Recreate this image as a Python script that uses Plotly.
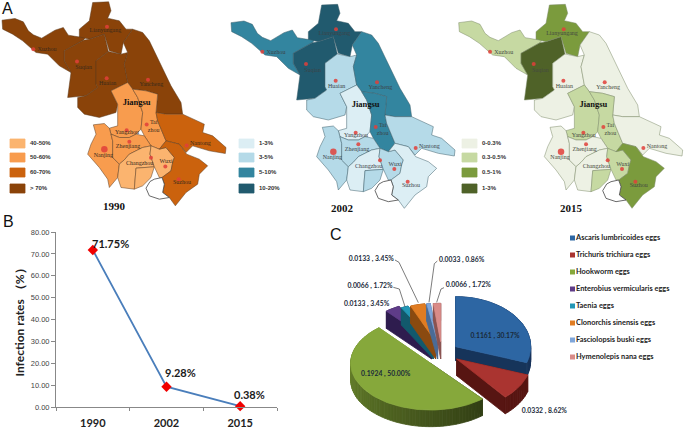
import numpy as np
import plotly.graph_objects as go

# ---------- map data (outlines, in map units) ----------
REGIONS = {
 "Xuzhou": [(18,68),(57,63),(82,73),(97,100),(112,112),(137,122),(177,98),(202,90),(217,113),(247,118),(272,116),(262,128),(205,160),(205,190),(225,225),(190,205),(155,170),(120,165),(80,130),(50,110),(20,95)],
 "Lianyungang": [(250,95),(280,70),(290,15),(338,13),(345,40),(335,62),(370,70),(390,95),(410,95),(382,135),(375,170),(340,160),(325,110),(280,125),(250,118)],
 "Suqian": [(205,160),(262,128),(280,125),(325,110),(337,162),(300,190),(300,260),(305,270),(270,295),(215,300),(225,225),(205,190)],
 "Huaian": [(300,190),(337,162),(375,170),(395,165),(385,200),(395,255),(345,280),(365,320),(360,345),(310,360),(265,350),(245,330),(245,300),(270,295),(305,270),(300,260)],
 "Yancheng": [(410,95),(440,105),(460,130),(480,170),(500,210),(525,265),(555,315),(560,350),(510,350),(480,345),(485,290),(450,280),(410,275),(395,255),(385,200),(395,165),(382,135)],
 "Yangzhou": [(345,280),(395,255),(410,275),(425,300),(440,345),(435,395),(420,410),(400,420),(370,420),(345,410),(340,392),(365,385),(365,320)],
 "Taizhou": [(410,275),(450,280),(485,290),(480,345),(485,370),(510,430),(490,455),(465,445),(445,415),(435,395),(440,345),(425,300)],
 "Nantong": [(480,345),(510,350),(560,350),(625,380),(620,405),(650,415),(690,450),(688,468),(640,460),(590,445),(570,465),(550,440),(510,430),(485,370)],
 "Nanjing": [(292,382),(325,378),(340,392),(345,410),(350,430),(350,480),(370,500),(365,540),(340,570),(335,545),(310,510),(275,470),(285,440),(300,410)],
 "Zhenjiang": [(345,410),(370,420),(400,420),(420,410),(445,415),(465,445),(440,450),(400,470),(385,487),(370,500),(350,480),(350,430)],
 "Changzhou A": [(385,487),(400,470),(440,450),(465,445),(462,470),(475,508),(420,512),(415,575),(375,570),(365,540),(370,500)],
 "Changzhou B": [(420,512),(475,508),(465,540),(440,565),(415,575)],
 "Wuxi": [(465,445),(490,455),(510,450),(535,480),(530,495),(525,520),(498,540),(490,540),(475,508),(462,470)],
 "Suzhou": [(510,430),(550,440),(572,470),(610,485),(635,505),(610,530),(605,560),(570,585),(538,625),(520,600),(500,585),(505,560),(498,540),(525,520),(530,495),(535,480),(510,450),(490,455)],
}
LAKE = [(450,572),(460,595),(490,605),(520,600),(500,585),(505,560),(498,540),(475,545),(462,552)]

CITY_NAMES = ["Xuzhou","Lianyungang","Suqian","Huaian","Yancheng","Yangzhou","Tai<br>zhou","Zhenjiang","Nanjing","Changzhou","Wuxi","Nantong","Suzhou"]
CITY_MARK_U = [112,333,243,332,456,392,452,400,325,465,508,572,548]
CITY_MARK_V = [155,88,192,242,247,398,381,433,455,481,507,444,545]
CITY_TEXT_U = [153,328,263,335,466,393,473,396,322,431,510,613,558]
CITY_TEXT_V = [156,100,210,258,262,406,388,448,473,498,492,438,556]

YEARS = ["1990","2002","2015"]
LEGEND_LABELS = [["40-50%","50-60%","60-70%","> 70%"],
                 ["1-3%","3-5%","5-10%","10-20%"],
                 ["0-0.3%","0.3-0.5%","0.5-1%","1-3%"]]
LEGEND_COLORS = [["#FBB46F","#F89C4E","#CB620D","#8A4309"],
                 ["#DCEEF4","#B5DAE8","#33859F","#215A6E"],
                 ["#EDF1E4","#C6D9A2","#7B9B3D","#4F6228"]]
CLASS_1990 = {"Xuzhou":3,"Lianyungang":3,"Suqian":3,"Huaian":3,"Yancheng":3,"Yangzhou":1,"Taizhou":1,"Nantong":2,"Nanjing":1,"Zhenjiang":1,"Changzhou A":0,"Changzhou B":0,"Wuxi":0,"Suzhou":2}
CLASS_2002 = {"Xuzhou":2,"Lianyungang":3,"Suqian":3,"Huaian":1,"Yancheng":2,"Yangzhou":0,"Taizhou":2,"Nantong":1,"Nanjing":1,"Zhenjiang":1,"Changzhou A":0,"Changzhou B":1,"Wuxi":1,"Suzhou":0}
CLASS_2015 = {"Xuzhou":1,"Lianyungang":2,"Suqian":3,"Huaian":0,"Yancheng":0,"Yangzhou":1,"Taizhou":1,"Nantong":0,"Nanjing":0,"Zhenjiang":0,"Changzhou A":0,"Changzhou B":1,"Wuxi":1,"Suzhou":2}
CLASSES = [CLASS_1990, CLASS_2002, CLASS_2015]

# ---------- line chart data ----------
LINE_YEARS = ["1990","2002","2015"]
LINE_RATES = [71.75,9.28,0.38]
LINE_TEXT = ["71.75%","9.28%","0.38%"]

# ---------- pie data ----------
EGG_NAMES = ["Ascaris lumbricoides eggs","Trichuris trichiura eggs","Hookworm eggs","Enterobius vermicularis eggs",
             "Taenia eggs","Clonorchis sinensis eggs","Fasciolopsis buski eggs","Hymenolepis nana eggs"]
EGG_RATE = [0.1161,0.0332,0.1924,0.0133,0.0066,0.0133,0.0033,0.0066]
EGG_PCT = [30.17,8.62,50.00,3.45,1.72,3.45,0.86,1.72]

# ---------- placement and style ----------
PANEL_OFFSET = [(-4,-2.5),(225,0),(452.7,0)]
PANEL_LINE = ["#5a3a1e","#3d5e6b","#7d8a68"]
TEXT_COL = ["#3a2a1c","#3c4448","#454a40"]
LEG_X = [10,239,462]
LEG_Y = [(139,148),(153,162),(168,177),(184,193)]
JIANGSU_UV = (422,316)
YEAR_XY = [(114,207),(342,209),(571,209)]
LINE_LABEL_SHIFT = [(18,7),(14,14),(9,12)]

SLICE_TOP = ["#2D66A3","#AA3430","#86A83B","#5F3C88","#2397B6","#E07C22","#7FA6DA","#D98B88"]
SLICE_SIDE = ["#16345A","#571512","#55701F","#2E1C4E","#12596C","#8A4A10","#4A6B96","#8A5350"]
SLICE_APEX = [(527,365),(530,402),(452,415),(455,350),(460,350),(467,350),(473,350),(482,350)]
SLICE_RX = [225,225,240,210,205,203,203,203]
SLICE_RY = [150,150,140,120,115,115,115,115]
SLICE_DEPTH = [42,50,50,52,52,52,52,52]
PAINT_ORDER = [3,4,5,6,7,0,1,2]
PIE_LABEL_UV = [(645,333),(793,560),(317,447),(260,237),(270,185),(274,103),(545,105),(565,180)]
LEADERS = [[],[],[],[],[(340,187),(358,192),(375,245)],[(345,105),(357,112),(415,233)],
           [(472,108),(463,116),(447,232)],[(492,188),(483,192),(470,232)]]
EGG_LEG_X, EGG_LEG_Y0, EGG_LEG_DY = 572.5, 238, 17


def pu(u, p): return PANEL_OFFSET[p][0] + u / 3
def pv(v, p): return PANEL_OFFSET[p][1] + v / 3
def piex(u): return 280 + np.asarray(u, float) / 3
def piey(v): return 225 + np.asarray(v, float) / 3

fig = go.Figure()

def poly(xs, ys, fill, line=None, width=0.5):
    fig.add_trace(go.Scatter(x=list(xs), y=list(ys), mode="lines", fill="toself", fillcolor=fill,
                             line=dict(color=line or fill, width=width if line else 0.8),
                             hoverinfo="skip", showlegend=False))

# maps
for p in range(3):
    for name, pts in REGIONS.items():
        u, v = zip(*(pts + pts[:1]))
        poly([pu(a, p) for a in u], [pv(b, p) for b in v], LEGEND_COLORS[p][CLASSES[p][name]], PANEL_LINE[p])
    u, v = zip(*(LAKE + LAKE[:1]))
    poly([pu(a, p) for a in u], [pv(b, p) for b in v], "#FFFFFF", "#444444", 0.8)
    sizes = [6.5 if n == "Nanjing" else 4 for n in CITY_NAMES]
    fig.add_trace(go.Scatter(x=[pu(a, p) for a in CITY_MARK_U], y=[pv(b, p) for b in CITY_MARK_V], mode="markers",
                             marker=dict(color="#E0403A", size=sizes, opacity=0.85, line=dict(width=0)),
                             hoverinfo="skip", showlegend=False))
    fig.add_trace(go.Scatter(x=[pu(a, p) for a in CITY_TEXT_U], y=[pv(b, p) for b in CITY_TEXT_V], mode="text",
                             text=CITY_NAMES, textposition="middle center",
                             textfont=dict(family="Liberation Serif", size=6, color=TEXT_COL[p]),
                             hoverinfo="skip", showlegend=False))
    fig.add_trace(go.Scatter(x=[pu(JIANGSU_UV[0], p)], y=[pv(JIANGSU_UV[1], p)], mode="text", text=["<b>Jiangsu</b>"],
                             textfont=dict(family="Liberation Serif", size=8.5, color="#111111"),
                             hoverinfo="skip", showlegend=False))
    fig.add_trace(go.Scatter(x=[YEAR_XY[p][0]], y=[YEAR_XY[p][1]], mode="text", text=["<b>" + YEARS[p] + "</b>"],
                             textfont=dict(family="Liberation Serif", size=11, color="#111111"),
                             hoverinfo="skip", showlegend=False))
    for i, (y0, y1) in enumerate(LEG_Y):
        x0 = LEG_X[p]
        poly([x0, x0 + 15, x0 + 15, x0, x0], [y0, y0, y1, y1, y0], LEGEND_COLORS[p][i])
    fig.add_trace(go.Scatter(x=[LEG_X[p] + 20] * 4, y=[(a + b) / 2 for a, b in LEG_Y], mode="text",
                             text=["<b>" + t + "</b>" for t in LEGEND_LABELS[p]], textposition="middle right",
                             textfont=dict(family="Liberation Sans", size=6, color="#333333"),
                             hoverinfo="skip", showlegend=False))

# pie, with angles worked out from the percentages
edges = np.concatenate([[0], np.cumsum(EGG_PCT)]) / sum(EGG_PCT) * 2 * np.pi
def scaled(hexcol, f):
    r, g, b = int(hexcol[1:3], 16), int(hexcol[3:5], 16), int(hexcol[5:7], 16)
    return f"rgb({int(r*f)},{int(g*f)},{int(b*f)})"
for i in PAINT_ORDER:
    a = np.linspace(edges[i], edges[i + 1], max(4, int((edges[i + 1] - edges[i]) * 24)))
    ax, ay = SLICE_APEX[i]
    tx = np.concatenate([[ax], ax + SLICE_RX[i] * np.sin(a), [ax]])
    ty = np.concatenate([[ay], ay - SLICE_RY[i] * np.cos(a), [ay]])
    d = SLICE_DEPTH[i]
    n = len(tx) - 1
    for k in sorted(range(n), key=lambda k: ty[k] + ty[k + 1]):
        shade = SLICE_SIDE[i]
        if i == 2:
            # hookworm rim fades from dark on the right to light on the left
            shade = scaled("#7C9C34", 0.4 + 0.6 * k / n)
        poly(piex([tx[k], tx[k + 1], tx[k + 1], tx[k], tx[k]]),
             piey([ty[k], ty[k + 1], ty[k + 1] + d, ty[k] + d, ty[k]]), shade)
    poly(piex(tx), piey(ty), SLICE_TOP[i])

for pts in LEADERS:
    if pts:
        u, v = zip(*pts)
        fig.add_trace(go.Scatter(x=piex(u), y=piey(v), mode="lines", line=dict(color="#444444", width=0.7),
                                 hoverinfo="skip", showlegend=False))
pie_text = [f"{r:.4f} , {q:.2f}%" for r, q in zip(EGG_RATE, EGG_PCT)]
fig.add_trace(go.Scatter(x=piex([u for u, _ in PIE_LABEL_UV]), y=piey([v for _, v in PIE_LABEL_UV]), mode="text",
                         text=pie_text, cliponaxis=False,
                         textfont=dict(family="Lato", size=6.8, color="#1a2a3a", weight="bold"),
                         hoverinfo="skip", showlegend=False))
# pie key
legend_y = [EGG_LEG_Y0 + i * EGG_LEG_DY for i in range(len(EGG_NAMES))]
fig.add_trace(go.Scatter(x=[EGG_LEG_X] * len(EGG_NAMES), y=legend_y, mode="markers",
                         marker=dict(symbol="square", size=5, color=SLICE_TOP), hoverinfo="skip", showlegend=False))
fig.add_trace(go.Scatter(x=[EGG_LEG_X + 3.5] * len(EGG_NAMES), y=legend_y, mode="text", text=EGG_NAMES,
                         textposition="middle right",
                         textfont=dict(family="Lato", size=7.4, color="#222222", weight="bold"),
                         hoverinfo="skip", showlegend=False))
# panel letters
fig.add_trace(go.Scatter(x=[2, 3, 330], y=[10, 223, 236], mode="text", text=["A", "B", "C"],
                         textposition="middle right",
                         textfont=dict(family="Liberation Sans", size=16, color="#111111"),
                         hoverinfo="skip", showlegend=False))

# line chart on its own axes
fig.add_trace(go.Scatter(x=LINE_YEARS, y=LINE_RATES, mode="lines+markers", xaxis="x2", yaxis="y2", cliponaxis=False,
                         line=dict(color="#4A7EBB", width=1.8),
                         marker=dict(symbol="diamond", size=8, color="#F00000", line=dict(width=0)),
                         showlegend=False))
# on a category axis an annotation is placed by the category's serial number
annotations = [dict(x=i, y=y, xref="x2", yref="y2", text=t, showarrow=False, xanchor="center", yanchor="middle",
                    xshift=s[0], yshift=s[1], font=dict(family="Lato", size=11, color="#1a1a1a", weight="bold"))
               for i, (y, t, s) in enumerate(zip(LINE_RATES, LINE_TEXT, LINE_LABEL_SHIFT))]

W, H = 685, 430
hidden = dict(visible=False, showgrid=False, zeroline=False, fixedrange=True, automargin=False)
fig.update_layout(
    width=W, height=H, autosize=False, margin=dict(l=0, r=0, t=0, b=0),
    paper_bgcolor="white", plot_bgcolor="rgba(0,0,0,0)", annotations=annotations,
    xaxis=dict(range=[0, W], domain=[0, 1], **hidden),
    yaxis=dict(range=[H, 0], domain=[0, 1], **hidden),
    xaxis2=dict(domain=[56 / W, 277 / W], anchor="y2", type="category", range=[-0.5, 2.5], showgrid=False, zeroline=False,
                automargin=False, showline=True, linecolor="#888888", linewidth=1, ticks="outside", ticklen=3,
                tickcolor="#888888", tickson="boundaries", ticklabelstandoff=6,
                tickfont=dict(family="Lato", size=11, color="#222222", weight="bold")),
    yaxis2=dict(domain=[(H - 407) / H, (H - 232) / H], anchor="x2", range=[0, 80], dtick=10, tickformat=".2f",
                automargin=False, showgrid=False, zeroline=False, showline=True, linecolor="#888888", linewidth=1,
                ticks="outside", ticklen=4, tickcolor="#888888",
                tickfont=dict(family="Liberation Sans", size=7.5, color="#444444"),
                title=dict(text="Infection rates （%）", standoff=3,
                           font=dict(family="Lato", size=12, color="#222222", weight="bold"))),
)
fig.write_html("out.html", config={"displayModeBar": False},
               post_script="document.body.style.margin='0';document.body.style.overflow='hidden';")
